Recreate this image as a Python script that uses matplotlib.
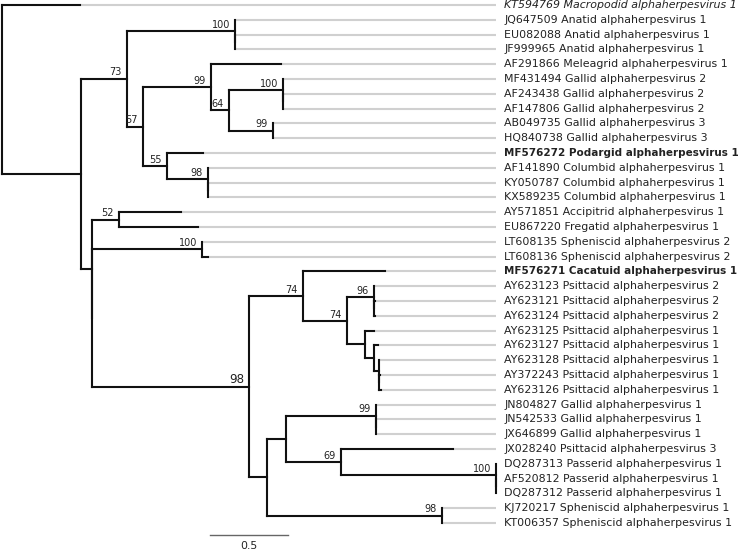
import re
import matplotlib
matplotlib.use("Agg")
import matplotlib.pyplot as plt

# tip labels, top to bottom
accessions = [
    "KT594769", "JQ647509", "EU082088", "JF999965", "AF291866", "MF431494",
    "AF243438", "AF147806", "AB049735", "HQ840738", "MF576272", "AF141890",
    "KY050787", "KX589235", "AY571851", "EU867220", "LT608135", "LT608136",
    "MF576271", "AY623123", "AY623121", "AY623124", "AY623125", "AY623127",
    "AY623128", "AY372243", "AY623126", "JN804827", "JN542533", "JX646899",
    "JX028240", "DQ287313", "AF520812", "DQ287312", "KJ720217", "KT006357",
]
species = [
    "Macropodid alphaherpesvirus 1", "Anatid alphaherpesvirus 1",
    "Anatid alphaherpesvirus 1", "Anatid alphaherpesvirus 1",
    "Meleagrid alphaherpesvirus 1", "Gallid alphaherpesvirus 2",
    "Gallid alphaherpesvirus 2", "Gallid alphaherpesvirus 2",
    "Gallid alphaherpesvirus 3", "Gallid alphaherpesvirus 3",
    "Podargid alphaherpesvirus 1", "Columbid alphaherpesvirus 1",
    "Columbid alphaherpesvirus 1", "Columbid alphaherpesvirus 1",
    "Accipitrid alphaherpesvirus 1", "Fregatid alphaherpesvirus 1",
    "Spheniscid alphaherpesvirus 2", "Spheniscid alphaherpesvirus 2",
    "Cacatuid alphaherpesvirus 1", "Psittacid alphaherpesvirus 2",
    "Psittacid alphaherpesvirus 2", "Psittacid alphaherpesvirus 2",
    "Psittacid alphaherpesvirus 1", "Psittacid alphaherpesvirus 1",
    "Psittacid alphaherpesvirus 1", "Psittacid alphaherpesvirus 1",
    "Psittacid alphaherpesvirus 1", "Gallid alphaherpesvirus 1",
    "Gallid alphaherpesvirus 1", "Gallid alphaherpesvirus 1",
    "Psittacid alphaherpesvirus 3", "Passerid alphaherpesvirus 1",
    "Passerid alphaherpesvirus 1", "Passerid alphaherpesvirus 1",
    "Spheniscid alphaherpesvirus 1", "Spheniscid alphaherpesvirus 1",
]
bold_tips = ["MF576272", "MF576271"]
italic_tips = ["KT594769"]

# tree with branch lengths and bootstrap support ("*" = emphasised label)
newick = (
    "(KT594769:0.500,"
    "(((JQ647509:0.001,(EU082088:0.001,JF999965:0.001):0.001)100:0.692,"
    "((AF291866:0.449,((MF431494:0.001,(AF243438:0.001,AF147806:0.001):0.001)100:0.346,"
    "(AB049735:0.001,HQ840738:0.001)99:0.282)64:0.115)99:0.436,"
    "(MF576272:0.231,(AF141890:0.001,(KY050787:0.001,KX589235:0.001):0.001)98:0.263)55:0.154)57:0.103)73:0.295,"
    "((AY571851:0.397,EU867220:0.506)52:0.173,"
    "((LT608135:0.001,LT608136:0.038)100:0.705,"
    "((MF576271:0.526,((AY623123:0.001,(AY623121:0.003,AY623124:0.003):0.001)96:0.173,"
    "(AY623125:0.058,(AY623127:0.026,(AY623128:0.003,(AY372243:0.003,AY623126:0.013):0.001):0.032):0.058):0.115)74:0.282)74:0.346,"
    "(((JN804827:0.001,(JN542533:0.001,JX646899:0.001):0.001)99:0.577,"
    "(JX028240:0.718,(DQ287313:0.001,(AF520812:0.001,DQ287312:0.001):0.001)100:0.994)69:0.353):0.122,"
    "(KJ720217:0.001,KT006357:0.001)98:1.122):0.115)98*:1.006):0.0):0.071):0.506);"
)
scale_length = 0.5


def parse_newick(s):
    s = s.strip().rstrip(";")
    pos = 0

    def node():
        nonlocal pos
        n = {"children": [], "name": "", "length": 0.0}
        if s[pos] == "(":
            pos += 1
            n["children"].append(node())
            while s[pos] == ",":
                pos += 1
                n["children"].append(node())
            pos += 1
        name = re.match(r"[^:,()]*", s[pos:]).group(0)
        n["name"] = name
        pos += len(name)
        if pos < len(s) and s[pos] == ":":
            m = re.match(r":([0-9.eE+-]+)", s[pos:])
            n["length"] = float(m.group(1))
            pos += len(m.group(0))
        return n

    return node()


tips = []
internals = []


def layout(n, x0):
    n["x"] = x0 + n["length"]
    if not n["children"]:
        n["y"] = len(tips)
        tips.append(n)
    else:
        for c in n["children"]:
            layout(c, n["x"])
        n["y"] = (n["children"][0]["y"] + n["children"][-1]["y"]) / 2
        internals.append(n)


root = parse_newick(newick)
layout(root, 0.0)

PX = 1 / 156.0  # tree units per pixel
fig = plt.figure(figsize=(7.4, 5.52), dpi=100)
ax = fig.add_axes([0, 0, 1, 1])
ax.set_xlim(-2 * PX, 738 * PX)
ax.set_ylim((552 - 5) / 14.8, -5 / 14.8)
ax.axis("off")

black = "#111111"
grey = "#d0d0d0"
lw = 1.5

max_x = max(t["x"] for t in tips)
label_of = dict(zip(accessions, species))

for t in tips:
    ax.plot([t["x"], max_x], [t["y"], t["y"]], color=grey, lw=lw,
            solid_capstyle="butt", zorder=1)
    is_bold = t["name"] in bold_tips
    style = "italic" if t["name"] in italic_tips else "normal"
    ax.text(max_x + 8 * PX, t["y"], f"{t['name']} {label_of[t['name']]}",
            fontsize=7.45 if is_bold else 7.95,
            fontweight="bold" if is_bold else "normal", fontstyle=style,
            ha="left", va="center", color="#222222")


def draw_branches(n, parent_x):
    ax.plot([parent_x, n["x"]], [n["y"], n["y"]], color=black, lw=lw,
            solid_capstyle="projecting", zorder=2)
    if n["children"]:
        ax.plot([n["x"], n["x"]], [n["children"][0]["y"], n["children"][-1]["y"]],
                color=black, lw=lw, solid_capstyle="projecting", zorder=2)
        for c in n["children"]:
            draw_branches(c, n["x"])
        if n["name"]:
            big = n["name"].endswith("*")
            ax.annotate(n["name"].rstrip("*"), (n["x"], n["y"]),
                        xytext=(-3.6, 2.4), textcoords="offset points",
                        ha="right", va="baseline",
                        fontsize=8.6 if big else 7.0, color="#222222")


draw_branches(root, root["x"])

# scale bar
sb_x0 = 208 * PX
sb_y = (535 - 5) / 14.8
ax.plot([sb_x0, sb_x0 + scale_length], [sb_y, sb_y], color="#666666", lw=1.0)
ax.text(sb_x0 + scale_length / 2, sb_y + 0.4, f"{scale_length}",
        ha="center", va="top", fontsize=7.8, color="#222222")

fig.savefig("out.png", dpi=100)
